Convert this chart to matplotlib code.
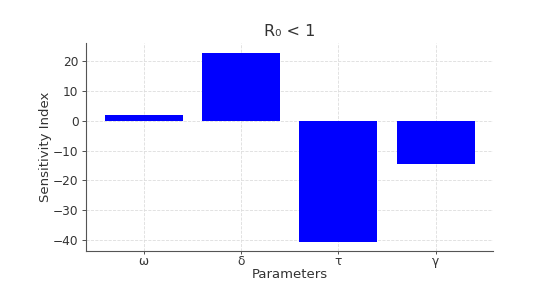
import matplotlib
matplotlib.use("Agg")
import matplotlib.pyplot as plt

# Parámetros y sus índices de sensibilidad
params = ['ω', 'δ', 'τ', 'γ']
sens = [1.8, 23.0, -40.7, -14.7]

fig = plt.figure(figsize=(5.42, 2.89), dpi=100)
ax = fig.add_axes([0.159, 0.131, 0.751, 0.72])

ax.bar(params, sens, color='blue', width=0.8, zorder=2)
ax.set_title('R₀ < 1', fontsize=11.5, color='#333333', pad=5)
ax.set_xlabel('Parameters', fontsize=9.5, color='#333333', labelpad=0)
ax.set_ylabel('Sensitivity Index', fontsize=9.5, color='#333333', labelpad=1)
ax.grid(True, linestyle='--', color='#dddddd', linewidth=0.6, zorder=0)
ax.set_axisbelow(True)
ax.spines['top'].set_visible(False)
ax.spines['right'].set_visible(False)
ax.spines['left'].set_color('#555555')
ax.spines['bottom'].set_color('#555555')
ax.tick_params(labelsize=8.7, colors='#333333', length=3, width=0.6, pad=2.5)
ax.tick_params(axis='x', length=2.5, pad=0)

fig.savefig('out.png', dpi=100)
